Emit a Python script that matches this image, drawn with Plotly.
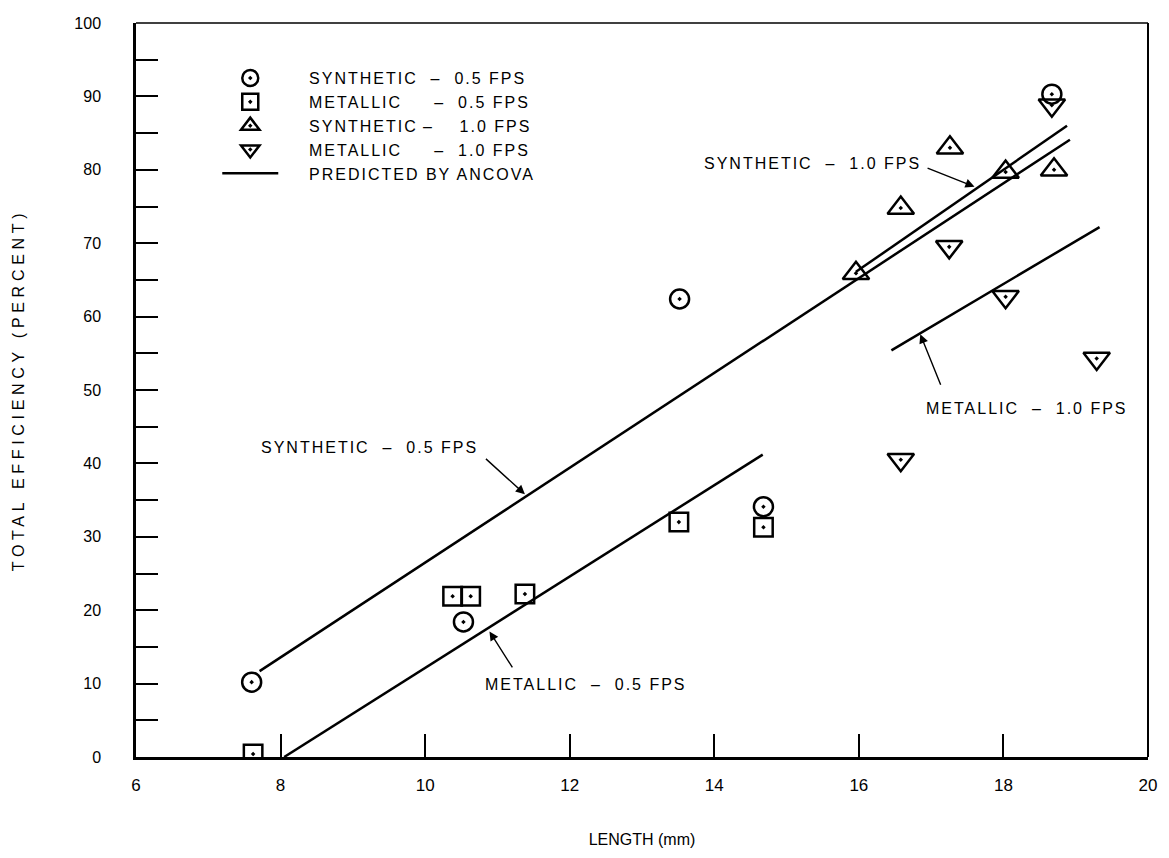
import plotly.graph_objects as go

# ---- data ----
syn05_x = [7.60, 10.53, 13.52, 14.68, 18.67]
syn05_y = [10.2, 18.4, 62.4, 34.1, 90.3]
met05_x = [7.62, 10.38, 10.63, 11.38, 13.51, 14.68]
met05_y = [0.4, 21.9, 21.9, 22.2, 32.0, 31.3]
syn10_x = [15.96, 16.58, 17.26, 18.03, 18.70]
syn10_y = [65.9, 74.8, 83.0, 79.7, 80.0]
met10_x = [16.58, 17.25, 18.03, 18.67, 19.29]
met10_y = [40.5, 69.5, 62.7, 88.8, 54.3]

# ANCOVA predicted lines (end points)
pred_syn05_x = [7.71, 18.92]
pred_syn05_y = [11.7, 84.1]
pred_met05_x = [8.05, 14.67]
pred_met05_y = [0.0, 41.2]
pred_syn10_x = [15.96, 18.88]
pred_syn10_y = [66.1, 86.0]
pred_met10_x = [16.45, 19.33]
pred_met10_y = [55.4, 72.2]

x_ticks = [6, 8, 10, 12, 14, 16, 18, 20]
y_ticks = [0, 10, 20, 30, 40, 50, 60, 70, 80, 90, 100]

FONT = "Liberation Sans, Arial, sans-serif"
NARROW = "Liberation Sans Narrow, Arial Narrow, Liberation Sans, sans-serif"
NB = "\u00a0"


def spaced(s, px):
    return f"<span style='letter-spacing:{px}px'>{s}</span>"


fig = go.Figure()

line_style = dict(color="black", width=2.5)
for xs, ys in [(pred_syn05_x, pred_syn05_y), (pred_met05_x, pred_met05_y),
               (pred_syn10_x, pred_syn10_y), (pred_met10_x, pred_met10_y)]:
    fig.add_trace(go.Scatter(x=xs, y=ys, mode="lines", line=line_style,
                             showlegend=False, hoverinfo="skip"))

lead = NB * 4
mk_line = dict(color="black", width=2.5)
series = [
    (syn05_x, syn05_y, "circle-open-dot", 19,
     lead + "SYNTHETIC" + NB * 2 + "–" + NB * 2 + "0.5" + NB + "FPS"),
    (met05_x, met05_y, "square-open-dot", 18.5,
     lead + "METALLIC" + NB * 5 + "–" + NB * 2 + "0.5" + NB + "FPS"),
    (syn10_x, syn10_y, "triangle-up-open-dot", 23,
     lead + "SYNTHETIC" + "\u2009" + "–" + NB * 4 + "1.0" + NB + "FPS"),
    (met10_x, met10_y, "triangle-down-open-dot", 23,
     lead + "METALLIC" + NB * 5 + "–" + NB * 2 + "1.0" + NB + "FPS"),
]
for i, (xs, ys, sym, sz, name) in enumerate(series):
    fig.add_trace(go.Scatter(
        x=xs, y=ys, mode="markers", name=spaced(name, 2), legendgroup=f"g{i}",
        marker=dict(symbol=sym, size=sz, color="black", line=mk_line),
    ))
fig.add_trace(go.Scatter(
    x=[None], y=[None], mode="lines",
    name=spaced(lead + "PREDICTED BY ANCOVA", 2),
    legendgroup="g9", line=dict(color="black", width=2.5),
))

# ---- annotations: labels and arrows ----
txt_font = dict(family=FONT, size=16, color="black")
labels = [
    ("SYNTHETIC" + NB * 2 + "–" + NB * 2 + "1.0" + NB + "FPS", 15.36, 80.9, 17.60, 77.7, 16.93, 80.3),
    ("SYNTHETIC" + NB * 2 + "–" + NB * 2 + "0.5" + NB + "FPS", 9.23, 42.2, 11.38, 35.8, 10.82, 40.8),
    ("METALLIC" + NB * 2 + "–" + NB * 2 + "0.5" + NB + "FPS", 12.23, 9.9, 10.89, 17.1, 11.22, 12.0),
    ("METALLIC" + NB * 2 + "–" + NB * 2 + "1.0" + NB + "FPS", 18.32, 47.5, 16.85, 57.6, 17.14, 50.5),
]
for text, tx, ty, hx, hy, ax_, ay_ in labels:
    fig.add_annotation(x=tx, y=ty, text=spaced(text, 2), showarrow=False,
                       font=txt_font, xref="x", yref="y")
    fig.add_annotation(x=hx, y=hy, ax=ax_, ay=ay_, xref="x", yref="y",
                       axref="x", ayref="y", text="", showarrow=True,
                       arrowhead=2, arrowsize=1.3, arrowwidth=1.4,
                       arrowcolor="black")

# thin top and right frame lines
fig.add_shape(type="line", xref="paper", yref="paper", x0=0, x1=1, y0=1, y1=1,
              line=dict(color="black", width=1.6))
fig.add_shape(type="line", xref="paper", yref="paper", x0=1, x1=1, y0=0, y1=1,
              line=dict(color="black", width=2))

fig.update_layout(
    width=1169, height=858,
    margin=dict(l=136, r=12, t=23, b=101),
    paper_bgcolor="white", plot_bgcolor="white",
    font=dict(family=FONT, size=16, color="black"),
    showlegend=True,
    legend=dict(
        x=0.0803, y=0.948, xanchor="left", yanchor="top",
        bgcolor="rgba(0,0,0,0)", font=dict(family=FONT, size=16),
        tracegroupgap=2.3, itemwidth=56, traceorder="normal",
    ),
    xaxis=dict(
        range=[6, 20], tickvals=x_ticks, ticktext=[str(v) for v in x_ticks],
        ticks="inside", ticklen=23, tickwidth=1.5, tickcolor="black",
        showline=True, linecolor="black", linewidth=2.5, mirror=False,
        showgrid=False, zeroline=False, ticklabelstandoff=11,
        tickfont=dict(family=NARROW, size=17),
        title=dict(text="LENGTH (mm)", standoff=40,
                   font=dict(family=NARROW, size=16)),
    ),
    yaxis=dict(
        range=[0, 100], tickvals=y_ticks, ticktext=[str(v) for v in y_ticks],
        ticks="inside", ticklen=22, tickwidth=1.5, tickcolor="black",
        minor=dict(dtick=5, tick0=0, ticks="inside", ticklen=22,
                   tickwidth=1.5, tickcolor="black", showgrid=False),
        showline=True, linecolor="black", linewidth=2.5, mirror=False,
        showgrid=False, zeroline=False, ticklabelstandoff=29,
        tickfont=dict(family=FONT, size=16),
        title=dict(text=spaced("TOTAL EFFICIENCY (PERCENT)", 4.7), standoff=46,
                   font=dict(family=FONT, size=16)),
    ),
)

fig.write_html(
    "out.html",
    config={"displayModeBar": False},
    post_script="document.body.style.margin='0';document.body.style.overflow='hidden';",
)
